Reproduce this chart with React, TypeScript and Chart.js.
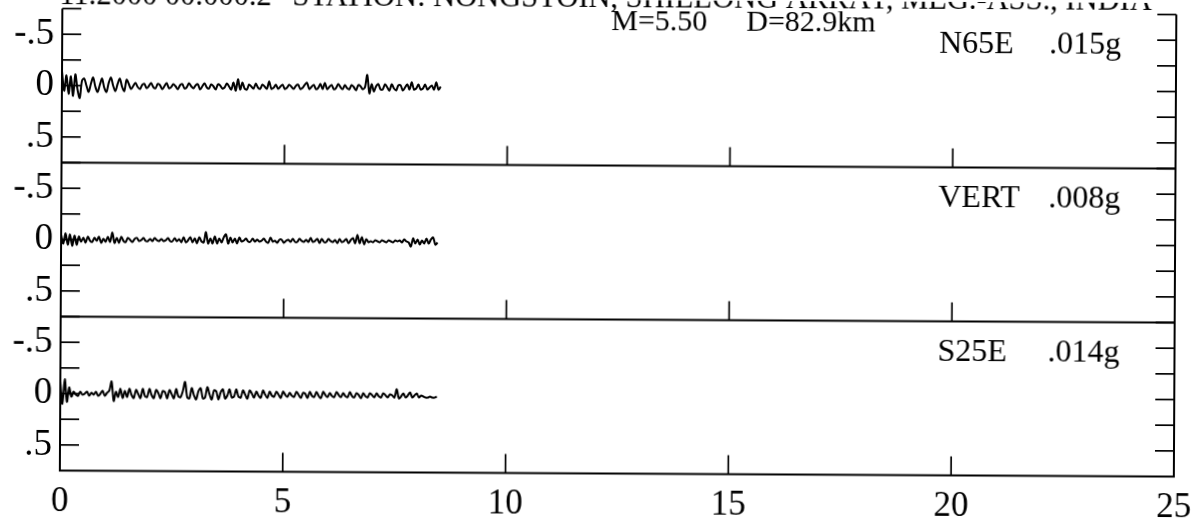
import React, { useEffect, useRef } from "react";
import { Chart, registerables } from "chart.js";

Chart.register(...registerables);

// Sampling interval of the digitised records, in seconds.
const TIME_STEP = 0.05;

const componentNames = ["N65E", "VERT", "S25E"];
const peakAccel = [".015g", ".008g", ".014g"];

const titleDate = "11.2000 00.000.2";
const titleStation = "STATION: NONGSTOIN, SHILLONG ARRAY, MEG.-ASS., INDIA";
const magnitudeText = "M=5.50";
const distanceText = "D=82.9km";

const yTickLabels: Record<string, string> = { "-0.5": "-.5", "0": "0", "0.5": ".5" };

// Normalised acceleration, positive values plot downward.
const n65e = [
  -0.14, 0.05, -0.1, 0.08, -0.09, 0.1, -0.11, 0.04, 0.12, -0.05,
  -0.07, 0.0, 0.06, -0.02, -0.08, 0.01, 0.06, -0.01, -0.07, 0.02,
  0.06, -0.03, -0.08, 0.0, 0.05, -0.02, -0.07, 0.01, 0.05, -0.06,
  -0.02, 0.03, 0.0, -0.03, 0.01, 0.03, -0.01, -0.02, 0.02, 0.0,
  -0.03, 0.01, 0.02, -0.02, -0.01, 0.03, 0.0, -0.03, 0.02, 0.01,
  -0.02, 0.0, 0.03, -0.01, -0.02, 0.02, 0.01, -0.03, 0.0, 0.02,
  -0.01, -0.02, 0.03, 0.0, -0.03, 0.01, 0.02, -0.02, 0.0, 0.03,
  -0.02, -0.01, 0.02, 0.01, -0.03, 0.0, 0.03, -0.04, 0.04, -0.07,
  0.03, -0.04, 0.02, 0.03, -0.02, 0.0, 0.02, -0.03, 0.01, 0.02,
  -0.02, 0.0, 0.02, -0.05, 0.02, 0.01, -0.02, 0.02, 0.0, -0.02,
  0.02, 0.01, -0.02, 0.0, 0.02, -0.01, -0.02, 0.02, 0.01, -0.02,
  -0.04, 0.02, 0.0, -0.02, 0.02, 0.01, -0.03, 0.02, -0.04, 0.02,
  0.0, -0.02, 0.02, 0.01, -0.03, 0.0, 0.02, -0.02, 0.01, 0.02,
  -0.02, 0.0, 0.03, -0.02, -0.01, 0.02, 0.0, -0.12, 0.06, -0.03,
  0.04, -0.01, -0.03, 0.02, 0.02, -0.03, 0.0, 0.03, -0.03, 0.01,
  0.03, -0.02, -0.02, 0.03, 0.0, -0.03, 0.02, -0.05, 0.02, 0.01,
  -0.03, 0.02, 0.01, -0.03, 0.02, 0.0, -0.02, 0.02, -0.05, 0.02,
  -0.01,
];

const vert = [
  -0.05, 0.04, -0.06, 0.05, -0.05, 0.06, -0.04, 0.05, -0.03, 0.02,
  -0.02, 0.03, -0.03, 0.01, 0.02, -0.02, 0.01, -0.03, 0.03, -0.01,
  0.02, -0.03, 0.02, -0.07, 0.03, -0.02, 0.03, -0.03, 0.01, 0.02,
  -0.02, 0.0, 0.02, -0.01, -0.02, 0.01, 0.0, -0.02, 0.01, 0.01,
  -0.01, 0.01, -0.02, 0.0, 0.01, -0.01, 0.01, 0.0, -0.02, 0.01,
  0.01, -0.02, 0.01, -0.01, 0.02, -0.03, 0.02, 0.0, -0.03, 0.02,
  -0.02, 0.03, -0.03, 0.01, 0.02, -0.08, 0.03, -0.02, 0.03, -0.04,
  0.03, -0.02, 0.02, -0.03, -0.06, 0.03, -0.03, 0.02, -0.02, 0.03,
  -0.03, 0.01, 0.0, -0.02, 0.01, 0.01, -0.02, 0.01, -0.01, 0.01,
  0.0, -0.02, 0.01, 0.02, -0.03, 0.01, 0.0, 0.02, -0.01, -0.01,
  0.02, 0.0, -0.01, 0.01, -0.02, 0.01, 0.01, -0.02, 0.0, 0.01,
  -0.01, 0.01, -0.03, 0.01, 0.0, -0.02, 0.02, -0.02, 0.01, 0.01,
  -0.02, 0.0, 0.01, -0.01, 0.02, -0.02, 0.01, 0.0, -0.02, 0.02,
  -0.01, -0.03, 0.02, -0.06, 0.02, -0.04, 0.03, -0.02, 0.01, 0.0,
  0.01, -0.01, 0.0, 0.01, -0.01, 0.0, 0.01, -0.01, 0.0, 0.01,
  -0.01, 0.0, -0.01, 0.01, -0.02, 0.0, 0.01, 0.05, -0.03, 0.02,
  -0.02, 0.03, -0.01, 0.02, -0.03, 0.02, -0.02, -0.04, 0.03, 0.01,
];

const s25e = [
  -0.12, 0.1, -0.14, 0.08, -0.06, 0.03, -0.02, 0.01, 0.02, -0.02,
  0.01, 0.0, -0.02, 0.02, -0.01, 0.01, -0.02, 0.02, 0.0, -0.03,
  0.02, -0.01, -0.03, -0.12, 0.07, -0.02, 0.03, -0.05, 0.04, -0.03,
  0.03, -0.05, 0.01, 0.04, -0.04, 0.0, 0.04, -0.05, 0.02, 0.03,
  -0.05, 0.01, 0.04, -0.04, -0.01, 0.04, -0.03, -0.02, 0.04, -0.04,
  0.0, 0.04, -0.05, 0.02, 0.03, -0.03, -0.12, 0.03, 0.04, -0.06,
  0.01, 0.05, -0.03, -0.06, 0.04, 0.03, -0.07, 0.0, 0.05, -0.04,
  -0.03, 0.05, -0.02, -0.05, 0.04, 0.01, -0.05, 0.03, 0.02, -0.05,
  0.02, 0.03, -0.04, 0.0, 0.04, -0.04, -0.01, 0.03, -0.03, 0.01,
  0.03, -0.04, 0.0, 0.03, -0.03, 0.01, 0.02, -0.03, 0.0, 0.03,
  -0.03, 0.0, 0.02, -0.02, 0.01, 0.02, -0.03, 0.0, 0.03, -0.02,
  -0.01, 0.03, -0.03, 0.01, 0.02, -0.03, 0.01, 0.03, -0.03, 0.0,
  0.02, -0.02, 0.01, 0.02, -0.03, 0.0, 0.02, -0.02, 0.01, 0.02,
  -0.03, 0.01, 0.02, -0.02, 0.0, 0.03, -0.02, 0.01, 0.02, -0.02,
  0.0, 0.02, -0.02, 0.01, 0.02, -0.02, 0.0, 0.02, -0.01, 0.0,
  0.02, -0.06, 0.03, 0.01, -0.02, 0.02, 0.0, -0.03, 0.02, 0.0,
  -0.02, 0.02, 0.0, 0.01, 0.02, 0.02, 0.01, 0.02, 0.02, 0.01,
];

const traces = [n65e, vert, s25e];
const axisIds = ["yN", "yV", "yS"];

const SERIF = "'Liberation Serif', 'Times New Roman', serif";

const toPoints = (vals: number[]) =>
  vals.map((y, i) => ({ x: Math.round(i * TIME_STEP * 100) / 100, y }));

const panelAxis = () => ({
  type: "linear" as const,
  position: "left" as const,
  stack: "records",
  stackWeight: 1,
  reverse: true,
  min: -0.75,
  max: 0.75,
  offset: false,
  grid: { display: false, drawTicks: false },
  border: { display: false },
  afterFit: (scale: any) => {
    scale.width = 61;
    scale.paddingTop = 0;
    scale.paddingBottom = 0;
  },
  ticks: {
    stepSize: 0.25,
    autoSkip: false,
    padding: 8,
    color: "#000",
    font: { family: SERIF, size: 37 },
    callback: (v: any) => yTickLabels[String(Number(v))] ?? "",
  },
});

const framePlugin = {
  id: "seismoFrame",
  afterDraw(chart: any) {
    const { ctx, chartArea } = chart;
    const { left, right } = chartArea;
    const xs = chart.scales.x;
    const panels = axisIds.map((id) => chart.scales[id]);
    const seg = (x1: number, y1: number, x2: number, y2: number) => {
      ctx.beginPath();
      ctx.moveTo(x1, y1);
      ctx.lineTo(x2, y2);
      ctx.stroke();
    };
    ctx.save();
    ctx.strokeStyle = "#000";
    ctx.fillStyle = "#000";

    // frame: side axes and the panel baselines
    ctx.lineWidth = 2;
    seg(left, panels[0].top, left, panels[2].bottom);
    seg(right, panels[0].top, right, panels[2].bottom);
    panels.forEach((p: any) => seg(left - 1, p.bottom, right + 1, p.bottom));

    // inward tick marks
    ctx.lineWidth = 1.7;
    const innerX = xs.ticks
      .map((t: any) => t.value)
      .filter((v: number) => v > xs.min && v < xs.max);
    panels.forEach((p: any) => {
      p.ticks.forEach((t: any) => {
        if (t.value >= p.max) return;
        const y = p.getPixelForValue(t.value);
        seg(left, y, left + 19, y);
        seg(right - 19, y, right, y);
      });
      innerX.forEach((v: number) => {
        const x = xs.getPixelForValue(v);
        seg(x, p.bottom, x, p.bottom - 19);
      });
    });

    // component name and peak acceleration
    ctx.font = `32px ${SERIF}`;
    ctx.textAlign = "left";
    ctx.textBaseline = "alphabetic";
    panels.forEach((p: any, i: number) => {
      ctx.fillText(componentNames[i], 938, p.top + 39.5);
      ctx.fillText(peakAccel[i], 1048, p.top + 39.5);
    });

    // header
    ctx.font = `30.5px ${SERIF}`;
    ctx.fillText(titleDate, 58, 7);
    ctx.fillText(titleStation, 291, 7);
    ctx.font = `30px ${SERIF}`;
    ctx.fillText(magnitudeText, 610, 30);
    ctx.fillText(distanceText, 745, 30);
    ctx.restore();
  },
};

export default function App() {
  const canvasRef = useRef<HTMLCanvasElement | null>(null);

  useEffect(() => {
    const canvas = canvasRef.current;
    if (!canvas) return;
    const scales: any = {
      x: {
        type: "linear",
        position: "bottom",
        min: 0,
        max: 25,
        grid: { display: false, drawTicks: false },
        border: { display: false },
        afterFit: (scale: any) => {
          scale.height = 48.5;
          scale.paddingLeft = 0;
          scale.paddingRight = 0;
        },
        ticks: {
          stepSize: 5,
          padding: 10,
          color: "#000",
          font: { family: SERIF, size: 35 },
          maxRotation: 0,
        },
      },
    };
    // stacked panels: the axis defined last is placed on top
    [...axisIds].reverse().forEach((id) => {
      scales[id] = panelAxis();
    });

    const chart = new Chart(canvas, {
      type: "line",
      data: {
        datasets: traces.map((vals, i) => ({
          label: componentNames[i],
          data: toPoints(vals),
          yAxisID: axisIds[i],
          borderColor: "#000",
          borderWidth: 2,
          pointRadius: 0,
          tension: 0.3,
          fill: false,
        })),
      },
      options: {
        responsive: false,
        animation: false,
        layout: { padding: { top: 11.5, right: 29, bottom: 0, left: 0 } },
        plugins: {
          legend: { display: false },
          tooltip: { enabled: false },
        },
        scales,
      },
      plugins: [framePlugin],
    });
    return () => chart.destroy();
  }, []);

  return (
    <div
      style={{
        position: "absolute",
        left: 0,
        top: 0,
        width: 1204,
        height: 522,
        background: "#fff",
        transform: "rotate(0.31deg)",
        transformOrigin: "center",
      }}
    >
      <canvas ref={canvasRef} width={1204} height={522} style={{ display: "block" }} />
    </div>
  );
}
